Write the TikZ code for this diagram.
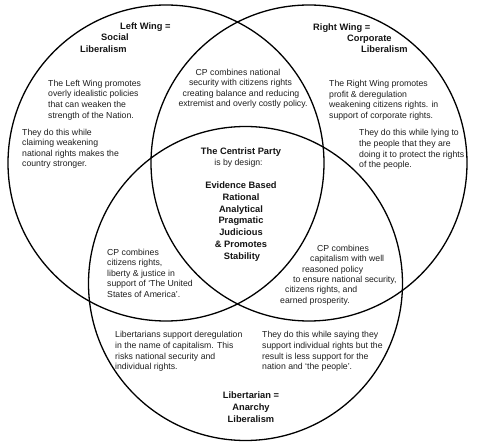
\documentclass[tikz,border=0pt]{standalone}
\usepackage{fontspec}
\setmainfont{Liberation Sans}
\tikzset{
  venn/.style={circle, draw=black, line width=1.3pt, inner sep=0pt, outer sep=0pt},
  rt/.style={font=\fontsize{8.7}{10}\selectfont, inner sep=0pt, text=black!88},
  bt/.style={font=\fontsize{9.3}{11}\selectfont\bfseries, inner sep=0pt, text=black!92}
}
\newcommand{\RL}[4]{\node[rt,anchor=base west] (#1) at (#2,{#3+3}) {#4};}
\newcommand{\RC}[4]{\node[rt,anchor=base] (#1) at (#2,{#3+3}) {#4};}
\newcommand{\BL}[4]{\node[bt,anchor=base west] (#1) at (#2,{#3+3.3}) {#4};}
\newcommand{\BC}[4]{\node[bt,anchor=base] (#1) at (#2,{#3+3.3}) {#4};}
\begin{document}
\begin{tikzpicture}[x=1pt,y=-1pt]
\useasboundingbox (0,0) rectangle (480,446);
\fill[white] (0,0) rectangle (480,446);
% circles
\node[venn, minimum size=316pt] (left)   at (166,163) {};
\node[venn, minimum size=316pt] (right)  at (309,163) {};
\node[venn, minimum size=314pt] (bottom) at (245.5,283.5) {};
% left title
\BL{lt1}{120}{26}{Left Wing =}
\BL{lt2}{101}{37.7}{Social}
\BL{lt3}{80}{49.3}{Liberalism}
% right title
\BL{rt1}{313}{27}{Right Wing =}
\BL{rt2}{347}{38}{Corporate}
\BL{rt3}{361}{49.3}{Liberalism}
% left body
\RL{la1}{48}{83.3}{The Left Wing promotes}
\RL{la2}{48}{94}{overly idealistic policies}
\RL{la3}{48}{104.7}{that can weaken the}
\RL{la4}{48}{115.4}{strength of the Nation.}
\RL{lb1}{22}{132.5}{They do this while}
\RL{lb2}{22}{143}{claiming weakening}
\RL{lb3}{22}{153.5}{national rights makes the}
\RL{lb4}{22}{164}{country stronger.}
% right body
\RL{ra1}{329}{83.3}{The Right Wing promotes}
\RL{ra2}{329}{94.3}{profit \& deregulation}
\RL{ra3}{329}{105}{weakening citizens rights. in}
\RL{ra4}{329}{116}{support of corporate rights.}
\RL{rb1}{359}{133}{They do this while lying to}
\RL{rb2}{359}{144}{the people that they are}
\RL{rb3}{359}{155}{doing it to protect the rights}
\RL{rb4}{359}{165}{of the people.}
% top middle
\RC{tm1}{238}{72.5}{CP combines national}
\RC{tm2}{240.5}{83}{security with citizens rights}
\RC{tm3}{241}{93.5}{creating balance and reducing}
\RC{tm4}{243}{104}{extremist and overly costly policy.}
% center
\BC{c1}{241}{151}{The Centrist Party}
\RC{c2}{238.5}{163}{is by design:}
\BC{c3}{241}{185}{Evidence Based}
\BC{c4}{241}{197.3}{Rational}
\BC{c5}{241}{209}{Analytical}
\BC{c6}{241}{220.7}{Pragmatic}
\BC{c7}{241}{232.3}{Judicious}
\BC{c8}{241}{244}{\& Promotes}
\BC{c9}{242}{256}{Stability}
% left-bottom
\RL{lbm1}{107}{252.3}{CP combines}
\RL{lbm2}{107}{262.8}{citizens rights,}
\RL{lbm3}{107}{273.3}{liberty \& justice in}
\RL{lbm4}{107}{283.8}{support of ‘The United}
\RL{lbm5}{107}{294.3}{States of America’.}
% right-bottom
\RL{rbm1}{317}{248.3}{CP combines}
\RL{rbm2}{310}{258.5}{capitalism with well}
\RL{rbm3}{302}{269.2}{reasoned policy}
\RL{rbm4}{293}{279.5}{to ensure national security,}
\RL{rbm5}{285}{290}{citizens rights, and}
\RL{rbm6}{280}{300.3}{earned prosperity.}
% bottom paragraphs
\RL{bl1}{115}{335}{Libertarians support deregulation}
\RL{bl2}{115}{345.7}{in the name of capitalism. This}
\RL{bl3}{115}{356.2}{risks national security and}
\RL{bl4}{115}{366.7}{individual rights.}
\RL{br1}{262}{335}{They do this while saying they}
\RL{br2}{262}{345.7}{support individual rights but the}
\RL{br3}{262}{356.2}{result is less support for the}
\RL{br4}{262}{366.7}{nation and ‘the people’.}
% bottom title
\BC{bt1}{251}{395}{Libertarian =}
\BC{bt2}{251}{407.3}{Anarchy}
\BC{bt3}{251}{419}{Liberalism}
\end{tikzpicture}
\end{document}
